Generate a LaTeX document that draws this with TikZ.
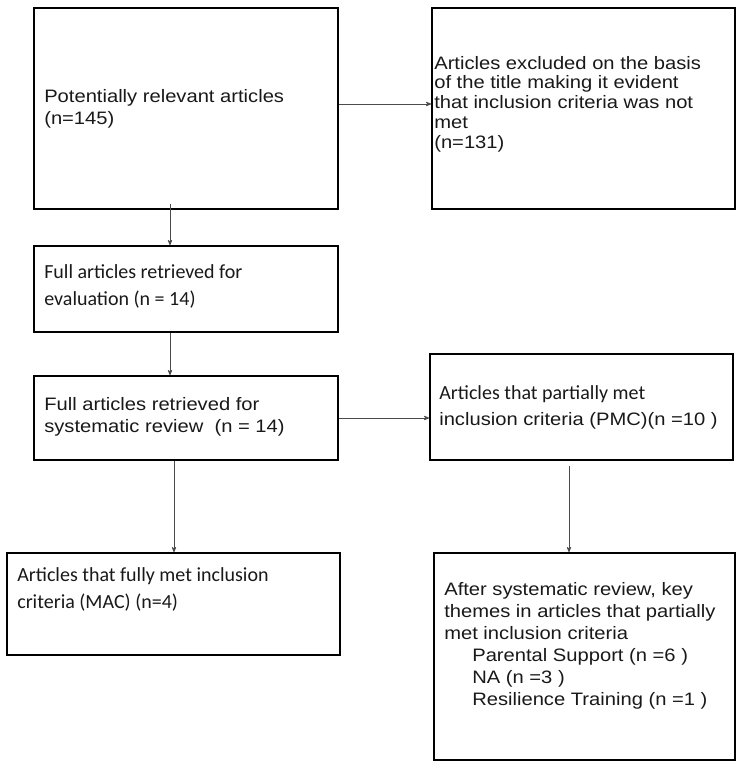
\documentclass[tikz,border=0pt]{standalone}
\usepackage{fontspec}
\usepackage{tikz}
\usetikzlibrary{arrows}
\newfontfamily\arialfont[FakeStretch=1.12]{Liberation Sans}
\newfontfamily\califont{Carlito}

\begin{document}
\begin{tikzpicture}[x=1pt,y=-1pt,>=stealth',
  box node/.style={rectangle,draw=black,line width=1.8pt,inner sep=0pt,fill=white},
  arial text/.style={anchor=base west,inner sep=0pt,align=left,text=black!90,
    font=\arialfont\fontsize{18}{21.5}\selectfont},
  cali text/.style={anchor=base west,inner sep=0pt,align=left,text=black!90,
    font=\califont\fontsize{20}{26.7}\selectfont},
  conn/.style={->,draw=black!70,line width=0.8pt}]

  \useasboundingbox (0,0) rectangle (736,762);

  % boxes
  \node[box node,minimum width=304pt,minimum height=201pt] (1) at (186,108.5) {};
  \node[box node,minimum width=303pt,minimum height=201pt] (2) at (583.5,108.5) {};
  \node[box node,minimum width=304pt,minimum height=86pt] (3) at (186,289) {};
  \node[box node,minimum width=304pt,minimum height=84pt] (4) at (186,418) {};
  \node[box node,minimum width=303pt,minimum height=106pt] (5) at (581.5,407) {};
  \node[box node,minimum width=333pt,minimum height=102pt] (6) at (173.5,604) {};
  \node[box node,minimum width=301pt,minimum height=207pt] (7) at (584.5,656.5) {};

  % texts (anchored at the baseline of their last line)
  \node[arial text] (t1) at ([xshift=11pt,yshift=-117pt]1.north west)
    {Potentially relevant articles\\(n=145)};
  \node[arial text,font=\arialfont\fontsize{18}{19.8}\selectfont] (t2) at ([xshift=3pt,yshift=-141.2pt]2.north west)
    {Articles excluded on the basis\\of the title making it evident\\that inclusion criteria was not\\met\\(n=131)};
  \node[cali text] (t3) at ([xshift=11pt,yshift=-60pt]3.north west)
    {Full articles retrieved for\\evaluation (n = 14)};
  \node[arial text] (t4) at ([xshift=11pt,yshift=-57.2pt]4.north west)
    {Full articles retrieved for\\systematic review\ \ (n = 14)};
  \node[cali text] (t5) at ([xshift=10pt,yshift=-72.7pt]5.north west)
    {Articles that partially met\\{\arialfont\fontsize{18}{26.7}\selectfont inclusion criteria (PMC)(n =10 )}};
  \node[cali text] (t6) at ([xshift=11pt,yshift=-56pt]6.north west)
    {Articles that fully met inclusion\\criteria (MAC) (n=4)};
  \node[arial text,font=\arialfont\fontsize{18}{22}\selectfont] (t7) at ([xshift=11pt,yshift=-153.7pt]7.north west)
    {After systematic review, key\\themes in articles that partially\\met inclusion criteria\\
     \hspace*{28pt}Parental Support (n =6 )\\\hspace*{28pt}NA (n =3 )\\\hspace*{28pt}Resilience Training (n =1 )};

  \path[every edge/.style={conn}]
    ([xshift=-16pt,yshift=6pt]1.south) edge ([xshift=-16pt]1.south |- 3.north)
    ([xshift=-16pt]3.south) edge ([xshift=-16pt]3.south |- 4.north)
    ([xshift=-12pt]4.south) edge ([xshift=-12pt]4.south |- 6.north)
    ([yshift=4.5pt]1.east) edge ([yshift=4.5pt]1.east -| 2.west)
    (4.east) edge (4.east -| 5.west)
    ([xshift=-12.5pt,yshift=-5pt]5.south) edge ([xshift=-12.5pt]5.south |- 7.north)
    ;

\end{tikzpicture}
\end{document}
